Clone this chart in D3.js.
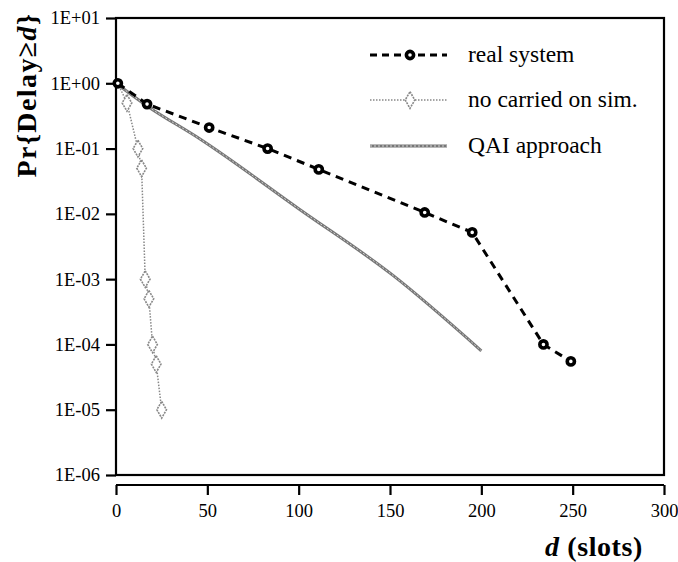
<!DOCTYPE html>
<html><head><meta charset="utf-8">
<script src="https://cdn.jsdelivr.net/npm/d3@7"></script>
<style>body{margin:0;background:#fff}svg{display:block}</style>
</head><body><svg id="c" width="678" height="562"></svg>
<script>
const xTicks = [0, 50, 100, 150, 200, 250, 300];
const yTicks = [1e1, 1e0, 1e-1, 1e-2, 1e-3, 1e-4, 1e-5, 1e-6];
const yTickLabels = ["1E+01","1E+00","1E-01","1E-02","1E-03","1E-04","1E-05","1E-06"];
const realD = [1, 17, 51, 83, 111, 169, 195, 234, 249];
const realV = [1, 0.48, 0.21, 0.1, 0.048, 0.0105, 0.0052, 0.0001, 0.000055];
const simD = [1, 6, 12, 14, 16, 18, 20, 22, 25];
const simV = [1, 0.5, 0.1, 0.05, 0.001, 0.0005, 0.0001, 0.00005, 0.00001];
const qaiD = [0, 17, 46, 100, 152, 200];
const qaiV = [1, 0.45, 0.14, 0.012, 0.00112, 0.00008];
const seriesNames = ["real system", "no carried on sim.", "QAI approach"];

const FONT = "'Liberation Serif', Tinos, 'Times New Roman', Times, 'DejaVu Serif', serif";
const svg = d3.select("#c").attr("font-family", FONT);
const L = 116, R = 664, T = 18, B = 475;
const x = d3.scaleLinear().domain([0, 300]).range([L, R]);
const y = d3.scaleLog().domain([1e-6, 1e1]).range([B, T]);

svg.append("rect").attr("x", L).attr("y", T).attr("width", R - L).attr("height", B - T)
  .attr("fill", "none").attr("stroke", "#000").attr("stroke-width", 2.2);

const yAxis = d3.axisLeft(y).tickValues(yTicks).tickSize(10).tickPadding(6)
  .tickFormat((d, i) => yTickLabels[i]);
const gy = svg.append("g").attr("transform", `translate(${L},0)`).call(yAxis)
  .attr("font-family", FONT).attr("font-size", 18.5);
gy.select(".domain").remove();
gy.selectAll(".tick line").attr("stroke", "#000").attr("stroke-width", 2.2);
gy.selectAll(".tick text").attr("fill", "#000");

const xAxis = d3.axisBottom(x).tickValues(xTicks).tickSize(10).tickSizeOuter(0).tickPadding(9);
const gx = svg.append("g").attr("transform", `translate(0,485)`).call(xAxis)
  .attr("font-family", FONT).attr("font-size", 18.5);
gx.select(".domain").attr("stroke", "#000").attr("stroke-width", 2.2).attr("d", `M${L},0H${R}`);
gx.selectAll(".tick line").attr("stroke", "#000").attr("stroke-width", 2.2);
gx.selectAll(".tick text").attr("fill", "#000");

const yt = svg.append("text").attr("transform", "translate(36,95) rotate(-90)")
  .attr("text-anchor", "middle").attr("font-size", 28).attr("font-weight", "bold")
  .attr("letter-spacing", 1.4);
yt.append("tspan").text("Pr{Delay≥");
yt.append("tspan").attr("font-style", "italic").text("d");
yt.append("tspan").text("}");

const xt = svg.append("text").attr("x", 594).attr("y", 556)
  .attr("text-anchor", "middle").attr("font-size", 28).attr("font-weight", "bold")
  .attr("letter-spacing", 0.6);
xt.append("tspan").attr("font-style", "italic").text("d");
xt.append("tspan").text(" (slots)");

const line = d3.line().x(d => x(d[0])).y(d => y(d[1]));
const zip = (a, b) => a.map((v, i) => [v, b[i]]);

const qai = zip(qaiD, qaiV);
const qline = d3.line().x(d => x(d[0])).y(d => y(d[1])).curve(d3.curveMonotoneX);
svg.append("path").datum(qai).attr("d", qline).attr("fill", "none")
  .attr("stroke", "#777").attr("stroke-width", 3);
svg.append("path").datum(qai).attr("d", qline).attr("fill", "none")
  .attr("stroke", "#d4d4d4").attr("stroke-width", 1).attr("stroke-dasharray", "2,2");

const sim = zip(simD, simV);
svg.append("path").datum(sim).attr("d", line).attr("fill", "none")
  .attr("stroke", "#888").attr("stroke-width", 1.5).attr("stroke-dasharray", "1.5,1.5");
function simMarker(g, cx, cy) {
  g.append("path").attr("d", d3.symbol(d3.symbolDiamond, 80)())
    .attr("transform", `translate(${cx},${cy})`)
    .attr("fill", "#fff").attr("stroke", "#888").attr("stroke-width", 1.6)
    .attr("stroke-dasharray", "2,1");
}
sim.slice(1).forEach(d => simMarker(svg, x(d[0]), y(d[1])));

const real = zip(realD, realV);
svg.append("path").datum(real).attr("d", line).attr("fill", "none")
  .attr("stroke", "#000").attr("stroke-width", 3).attr("stroke-dasharray", "8,6");
function realMarker(g, cx, cy) {
  g.append("circle").attr("cx", cx).attr("cy", cy).attr("r", 3.6)
    .attr("fill", "#fff").attr("stroke", "#000").attr("stroke-width", 3.6);
}
real.forEach(d => realMarker(svg, x(d[0]), y(d[1])));

const lg = svg.append("g");
const rows = [55, 100, 146];
lg.append("line").attr("x1", 370).attr("x2", 447).attr("y1", rows[0]).attr("y2", rows[0])
  .attr("stroke", "#000").attr("stroke-width", 3).attr("stroke-dasharray", "7,5");
realMarker(lg, 410, rows[0]);
lg.append("line").attr("x1", 370).attr("x2", 447).attr("y1", rows[1]).attr("y2", rows[1])
  .attr("stroke", "#888").attr("stroke-width", 1.5).attr("stroke-dasharray", "1.5,1.5");
simMarker(lg, 410, rows[1]);
lg.append("line").attr("x1", 370).attr("x2", 447).attr("y1", rows[2]).attr("y2", rows[2])
  .attr("stroke", "#777").attr("stroke-width", 3);
lg.append("line").attr("x1", 370).attr("x2", 447).attr("y1", rows[2]).attr("y2", rows[2])
  .attr("stroke", "#d4d4d4").attr("stroke-width", 1).attr("stroke-dasharray", "2,2");
seriesNames.forEach((n, i) => {
  lg.append("text").attr("x", 468).attr("y", rows[i] + 7).attr("font-size", 23.5).text(n);
});
</script></body></html>
